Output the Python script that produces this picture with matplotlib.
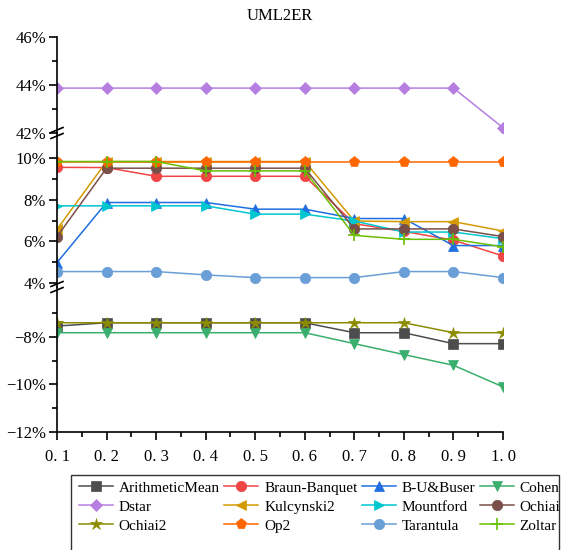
import numpy as np
import matplotlib
matplotlib.use("Agg")
import matplotlib.pyplot as plt
from matplotlib.lines import Line2D
from matplotlib.patches import Rectangle

plt.rcParams['font.family'] = ['Liberation Serif', 'DejaVu Serif']

x = [0.1, 0.2, 0.3, 0.4, 0.5, 0.6, 0.7, 0.8, 0.9, 1.0]
xticklabels = ['0. 1', '0. 2', '0. 3', '0. 4', '0. 5', '0. 6', '0. 7', '0. 8', '0. 9', '1. 0']

names = ['ArithmeticMean', 'Braun-Banquet', 'B-U&Buser', 'Cohen',
         'Dstar', 'Kulcynski2', 'Mountford', 'Ochiai',
         'Ochiai2', 'Op2', 'Tarantula', 'Zoltar']

arithmetic_mean = [-7.54, -7.4, -7.4, -7.4, -7.4, -7.4, -7.82, -7.82, -8.28, -8.28]
braun_banquet = [9.56, 9.55, 9.13, 9.13, 9.13, 9.13, 6.85, 6.48, 6.06, 5.3]
bu_buser = [4.98, 7.87, 7.87, 7.87, 7.55, 7.55, 7.1, 7.1, 5.8, 5.8]
cohen = [-7.82, -7.82, -7.82, -7.82, -7.82, -7.82, -8.28, -8.74, -9.19, -10.1]
dstar = [43.86, 43.86, 43.86, 43.86, 43.86, 43.86, 43.86, 43.86, 43.86, 42.2]
kulcynski2 = [6.58, 9.84, 9.84, 9.84, 9.84, 9.84, 6.98, 6.95, 6.95, 6.5]
mountford = [7.71, 7.71, 7.71, 7.71, 7.31, 7.31, 6.98, 6.45, 6.45, 6.13]
ochiai = [6.23, 9.52, 9.52, 9.52, 9.52, 9.52, 6.6, 6.6, 6.6, 6.23]
ochiai2 = [-7.4, -7.4, -7.4, -7.4, -7.4, -7.4, -7.4, -7.4, -7.82, -7.82]
op2 = [9.84, 9.84, 9.84, 9.84, 9.84, 9.84, 9.84, 9.84, 9.84, 9.84]
tarantula = [4.55, 4.55, 4.55, 4.39, 4.26, 4.26, 4.26, 4.55, 4.55, 4.26]
zoltar = [9.84, 9.84, 9.84, 9.39, 9.39, 9.39, 6.29, 6.1, 6.1, 5.74]

series = [arithmetic_mean, braun_banquet, bu_buser, cohen, dstar, kulcynski2,
          mountford, ochiai, ochiai2, op2, tarantula, zoltar]
colors = ['#4d4d4d', '#f04545', '#1f6fe0', '#3aae6c', '#b57ee0', '#d49a00',
          '#00c6d0', '#7a4f4a', '#8c8c00', '#ff6600', '#6a9ed6', '#6abf00']
markers = ['s', 'o', '^', 'v', 'D', '<', '>', 'o', '*', 'p', 'o', '+']
msizes = [7, 7.5, 7.5, 7.5, 6.5, 7.5, 7.5, 7.5, 9, 8, 7.5, 9]

W, H = 576, 550
fig = plt.figure(figsize=(W / 100, H / 100), dpi=100)

def box(top, bottom):
    return [57 / W, 1 - bottom / H, (503 - 57) / W, (bottom - top) / H]

ax_top = fig.add_axes(box(37, 132.5))
ax_mid = fig.add_axes(box(132.5, 287))
ax_bot = fig.add_axes(box(287, 432))
axes = [ax_top, ax_mid, ax_bot]

ax_top.set_ylim(42, 46)
ax_mid.set_ylim(4 - 4 / 20.8, 4 + (283 - 132.5) / 20.8)
ax_bot.set_ylim(-12, -12 + 145 / 23.75)

handles = []
for s, name, c, m, ms in zip(series, names, colors, markers, msizes):
    mew = 1.2 if m == '+' else 0.5
    for ax in axes:
        ax.plot(x, s, color=c, lw=1.1, marker=m, markersize=ms,
                markeredgecolor=c, markeredgewidth=mew)
    handles.append(Line2D([], [], color=c, lw=1.1, marker=m, markersize=ms,
                          markeredgecolor=c, markeredgewidth=mew))

def pct(v):
    return ('−%d%%' % -v) if v < 0 else '%d%%' % v

ticks = {ax_top: ([42, 44, 46], [43, 45]),
         ax_mid: ([4, 6, 8, 10], [5, 7, 9]),
         ax_bot: ([-12, -10, -8], [-11, -9, -7])}
for ax in axes:
    ax.set_xlim(0.1, 1.0)
    for sp in ['top', 'right']:
        ax.spines[sp].set_visible(False)
    ax.spines['left'].set_linewidth(1.2)
    major, minor = ticks[ax]
    ax.set_yticks(major)
    ax.set_yticklabels([pct(v) for v in major])
    ax.set_yticks(minor, minor=True)
    ax.tick_params(axis='y', which='major', direction='out', length=6, width=1.2,
                   labelsize=12, pad=2)
    ax.tick_params(axis='y', which='minor', direction='out', length=3.5, width=1.2)
    ax.patch.set_alpha(0)

for ax in [ax_top, ax_mid]:
    ax.spines['bottom'].set_visible(False)
    ax.tick_params(axis='x', which='both', bottom=False, labelbottom=False)

ax_bot.spines['bottom'].set_linewidth(1.2)
ax_bot.set_xticks(x)
ax_bot.set_xticklabels(xticklabels)
ax_bot.set_xticks(np.arange(0.15, 1.0, 0.1), minor=True)
ax_bot.tick_params(axis='x', which='major', direction='out', length=6, width=1.2,
                   labelsize=12, pad=6)
ax_bot.tick_params(axis='x', which='minor', direction='out', length=3.5, width=1.2)

fig.text(0.5 * (57 + 503) / W, 1 - 16 / H, 'UML2ER', ha='center', va='center', fontsize=12)

# axis break marks
for yb in [133, 287]:
    for dy in [-3, 3]:
        yc = yb + dy
        fig.add_artist(Line2D([(57 - 6) / W, (57 + 6) / W],
                              [1 - (yc + 2.5) / H, 1 - (yc - 2.5) / H],
                              color='black', lw=1.2, transform=fig.transFigure))

# legend: matplotlib fills by column, so reorder to read row by row
ncol = 4
order = [r * ncol + c for c in range(ncol) for r in range(len(names) // ncol)]
fig.add_artist(Rectangle((71 / W, 1 - 570 / H), (559 - 71) / W, 95 / H,
                         transform=fig.transFigure, fill=False, lw=1.0,
                         edgecolor='#333333'))
fig.legend([handles[i] for i in order], [names[i] for i in order],
           loc='upper left', bbox_to_anchor=(76 / W, 1 - 478 / H),
           ncol=ncol, frameon=False, fontsize=11, handlelength=2.2,
           columnspacing=0.3, handletextpad=0.4, labelspacing=0.35,
           borderaxespad=0, borderpad=0.2)

fig.savefig('out.png', dpi=100)
